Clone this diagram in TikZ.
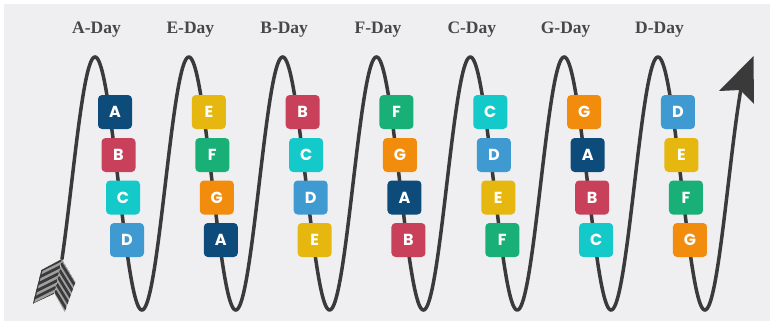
\documentclass[tikz,border=0pt]{standalone}
\usepackage{fontspec}
\setmainfont{Liberation Serif}
\newfontfamily\boxfont{Poppins}
\usetikzlibrary{calc}
\definecolor{cA}{HTML}{0D4B7A}
\definecolor{cB}{HTML}{C9405A}
\definecolor{cC}{HTML}{14C9C9}
\definecolor{cD}{HTML}{3F9AD2}
\definecolor{cE}{HTML}{E6B80F}
\definecolor{cF}{HTML}{19B078}
\definecolor{cG}{HTML}{F28C0C}
\definecolor{bggray}{HTML}{EFEFF1}
\definecolor{linegray}{HTML}{3A3A3A}
\definecolor{labelgray}{HTML}{474747}
\definecolor{vanegray}{HTML}{A0A0A0}
\begin{document}
\begin{tikzpicture}[x=1pt,y=-1pt,
  daylabel/.style={font=\fontsize{17.5}{19}\selectfont\bfseries, text=labelgray, anchor=base},
  letterbox/.style={draw=none, rounded corners=4pt, minimum size=34pt, inner sep=0pt,
    font=\boxfont\bfseries\fontsize{16}{16}\selectfont, text=white},
  wave/.style={line width=3.5pt, draw=linegray, line cap=round},
  stripe/.style={line width=2.8pt, draw=linegray}]
\fill[white] (0,0) rectangle (772,324);
\fill[bggray] (4,4) rectangle (770,321);
\useasboundingbox (0,0) rectangle (772,324);

% wave
\draw[wave] plot[domain=62:741, samples=700] (\x,{183.5-126.5*cos(3.83673*(\x-95))});

% arrow head
\coordinate (tip) at (753.5,56);
\coordinate (lbarb) at (719,91);
\coordinate (notch) at (740,90);
\coordinate (rbarb) at (754,104);
\fill[linegray] (tip) -- (lbarb) -- (notch) -- (rbarb) -- cycle;

% fletching
\coordinate (c1) at (62,259);
\coordinate (c2) at (54.5,293.5);
\coordinate (l1) at (41.5,270);
\coordinate (l2) at (33,303.5);
\coordinate (r1) at (75.5,282);
\coordinate (r2) at (64.7,312);
\begin{scope}
  \clip (c1) -- (l1) -- (l2) -- (c2) -- cycle;
  \fill[vanegray] (c1) -- (l1) -- (l2) -- (c2) -- cycle;
  \foreach \t in {0.02,0.22,...,1.3} {
    \draw[stripe] ($(c1)!\t!(c2)$) -- ++(-40,20);
  }
  \draw[linegray, line width=2pt] (l1) -- (l2);
\end{scope}
\begin{scope}
  \clip (c1) -- (r1) -- (r2) -- (c2) -- cycle;
  \fill[vanegray] (c1) -- (r1) -- (r2) -- (c2) -- cycle;
  \foreach \t in {0.12,0.32,...,1.4} {
    \draw[stripe] ($(c1)!\t!(c2)$) -- ++(20,32.5);
  }
\end{scope}

% columns
\foreach \k/\lab/\a/\b/\c/\d in {0/A/A/B/C/D, 1/E/E/F/G/A, 2/B/B/C/D/E, 3/F/F/G/A/B,
                                 4/C/C/D/E/F, 5/G/G/A/B/C, 6/D/D/E/F/G} {
  \pgfmathsetmacro{\px}{95+93.83*\k}
  \node[daylabel] (day\k) at (\px+1.5,33.5) {\lab-Day};
  \node[letterbox, fill=c\a] (box\k a) at (\px+20,112) {\a};
  \node[letterbox, fill=c\b] (box\k b) at (\px+23.5,155) {\b};
  \node[letterbox, fill=c\c] (box\k c) at (\px+28,197.5) {\c};
  \node[letterbox, fill=c\d] (box\k d) at (\px+32,240) {\d};
}
\end{tikzpicture}
\end{document}
